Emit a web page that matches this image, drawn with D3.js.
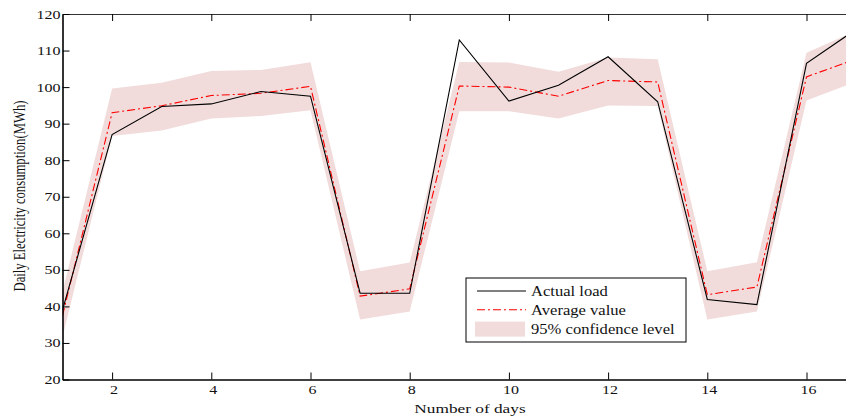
<!DOCTYPE html>
<html>
<head>
<meta charset="utf-8">
<script src="https://cdn.jsdelivr.net/npm/d3@7"></script>
<style>
  body { margin: 0; background: #fff; }
  text { font-family: "Liberation Serif", "Times New Roman", serif; fill: #111; }
</style>
</head>
<body>
<div id="chart"></div>
<script>
// data
const days = [1, 2, 3, 4, 5, 6, 7, 8, 9, 10, 11, 12, 13, 14, 15, 16, 17];
const actualLoad = [39, 87.0, 94.7, 95.4, 98.8, 97.5, 43.6, 43.6, 112.9, 96.2, 100.5, 108.3, 96.0, 41.9, 40.5, 106.5, 115.8];
const averageValue = [37.5, 93.0, 94.9, 97.7, 98.3, 100.2, 42.8, 44.8, 100.3, 100.0, 97.5, 101.8, 101.4, 43.2, 45.3, 102.8, 107.7];
const upperBound = [44, 99.6, 101.2, 104.4, 104.7, 106.8, 49.6, 52.0, 106.9, 106.7, 104.2, 108.1, 107.6, 49.6, 52.1, 109.4, 115.4];
const lowerBound = [31.6, 86.6, 88.1, 91.4, 92.1, 93.7, 36.4, 38.6, 93.4, 93.4, 91.4, 95.0, 94.8, 36.4, 38.6, 96.3, 101.5];
const xTicks = [2, 4, 6, 8, 10, 12, 14, 16];
const yTicks = [20, 30, 40, 50, 60, 70, 80, 90, 100, 110, 120];
const legendLabels = ["Actual load", "Average value", "95% confidence level"];

const width = 846, height = 416,
    margin = ({ top: 14, bottom: 36.5, left: 62.5 });
const sx = 1.28; // the source figure is stretched sideways

const svg = d3.select("#chart")
    .append("svg")
    .attr("width", width)
    .attr("height", height)
    .attr("viewBox", [0, 0, width, height]);

const x = d3.scaleLinear()
    .domain([1, 17])
    .range([margin.left, margin.left + 16 * 49.6]);

const y = d3.scaleLinear()
    .domain([20, 120])
    .range([height - margin.bottom, margin.top]);

const rows = days.map((d, i) => ({
    day: d, actual: actualLoad[i], avg: averageValue[i], hi: upperBound[i], lo: lowerBound[i]
}));

// clip data to the plot box
svg.append("clipPath").attr("id", "plot")
  .append("rect")
    .attr("x", margin.left).attr("y", margin.top)
    .attr("width", width - margin.left).attr("height", y(20) - y(120));

const plot = svg.append("g").attr("clip-path", "url(#plot)");

// confidence band
plot.append("path")
    .datum(rows)
    .attr("fill", "#f1dcdb")
    .attr("d", d3.area().x(d => x(d.day)).y0(d => y(d.lo)).y1(d => y(d.hi)));

// average value (dash-dot)
plot.append("path")
    .datum(rows)
    .attr("fill", "none")
    .attr("stroke", "#ff0000")
    .attr("stroke-width", 1.1)
    .attr("stroke-dasharray", "8,3,2,3")
    .attr("d", d3.line().x(d => x(d.day)).y(d => y(d.avg)));

// actual load
plot.append("path")
    .datum(rows)
    .attr("fill", "none")
    .attr("stroke", "#000")
    .attr("stroke-width", 1.1)
    .attr("d", d3.line().x(d => x(d.day)).y(d => y(d.actual)));

// axes, ticks pointing inwards
svg.append("g")
    .attr("transform", `translate(0,${y(20)})`)
    .call(d3.axisBottom(x).tickValues(xTicks).tickSizeInner(-7).tickSizeOuter(0).tickFormat(""))
    .call(g => g.select(".domain").attr("stroke-width", 1.6));

svg.append("g")
    .attr("transform", `translate(0,${y(120)})`)
    .call(d3.axisTop(x).tickValues(xTicks).tickSizeInner(-7).tickSizeOuter(0).tickFormat(""))
    .call(g => g.select(".domain").attr("stroke", "#333").attr("stroke-width", 1.2));

svg.append("g")
    .attr("transform", `translate(${x(1)},0)`)
    .call(d3.axisLeft(y).tickValues(yTicks).tickSizeInner(-7).tickSizeOuter(0).tickFormat(""))
    .call(g => g.select(".domain").attr("stroke-width", 1.6));

// tick labels drawn by hand so they can be stretched like the source
svg.append("g").selectAll("text")
  .data(yTicks)
  .join("text")
    .attr("transform", d => `translate(${x(1) - 2},${y(d) + 4.5}) scale(${sx},1)`)
    .attr("text-anchor", "end")
    .attr("font-size", 12.5)
    .text(d => d);

svg.append("g").selectAll("text")
  .data(xTicks)
  .join("text")
    .attr("transform", d => `translate(${x(d) + 2},${y(20) + 14}) scale(${sx},1)`)
    .attr("text-anchor", "middle")
    .attr("font-size", 12.5)
    .text(d => d);

// axis titles
svg.append("text")
    .attr("transform", `translate(470,413) scale(${sx},1)`)
    .attr("text-anchor", "middle")
    .attr("font-size", 13.5)
    .text("Number of days");

svg.append("text")
    .attr("transform", `translate(25,196) scale(${sx},1) rotate(-90)`)
    .attr("text-anchor", "middle")
    .attr("font-size", 12.7)
    .text("Daily Electricity consumption(MWh)");

// legend
const legend = svg.append("g").attr("transform", "translate(466,278)");
legend.append("rect")
    .attr("width", 220).attr("height", 64)
    .attr("fill", "#fff").attr("stroke", "#000").attr("stroke-width", 1);

const items = legend.selectAll("g.item")
  .data(legendLabels)
  .join("g")
    .attr("class", "item")
    .attr("transform", (d, i) => `translate(0,${13 + i * 18.8})`);

items.each(function (d, i) {
    const g = d3.select(this);
    if (i === 0) {
        g.append("line").attr("x1", 11).attr("x2", 60).attr("stroke", "#000").attr("stroke-width", 1);
    } else if (i === 1) {
        g.append("line").attr("x1", 11).attr("x2", 60)
            .attr("stroke", "#ff0000").attr("stroke-width", 1.1).attr("stroke-dasharray", "8,3,2,3");
    } else {
        g.append("rect").attr("x", 9).attr("y", -7).attr("width", 50).attr("height", 15).attr("fill", "#f1dcdb");
    }
    g.append("text")
        .attr("transform", `translate(65,5) scale(1.22,1)`)
        .attr("font-size", 13.6)
        .text(d);
});
</script>
</body>
</html>
